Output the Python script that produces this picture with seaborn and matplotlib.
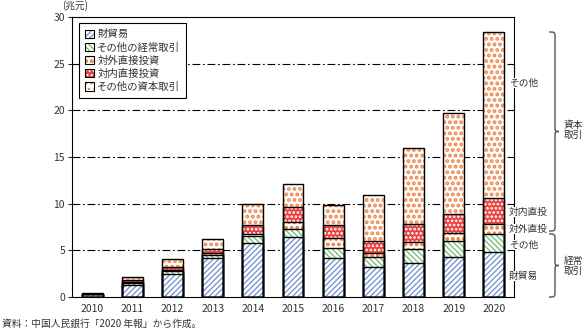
import matplotlib
matplotlib.use("Agg")
import matplotlib.pyplot as plt
import seaborn as sns
import numpy as np
import pandas as pd
from matplotlib.patches import Patch, PathPatch
from matplotlib.path import Path
from matplotlib.legend_handler import HandlerTuple

# ---------------- data (兆元) ----------------
years = ["2010", "2011", "2012", "2013", "2014", "2015",
         "2016", "2017", "2018", "2019", "2020"]
goods_trade = [0.28, 1.32, 2.50, 4.14, 5.82, 6.40, 4.14, 3.18, 3.61, 4.25, 4.79]
other_current = [0.04, 0.20, 0.33, 0.40, 0.72, 0.85, 1.07, 1.07, 1.50, 1.72, 1.96]
outward_fdi = [0.02, 0.10, 0.07, 0.15, 0.20, 0.79, 1.11, 0.50, 0.75, 0.92, 1.07]
inward_fdi = [0.03, 0.18, 0.30, 0.50, 0.93, 1.57, 1.36, 1.22, 1.96, 1.97, 2.75]
other_capital = [0.03, 0.32, 0.86, 1.00, 2.25, 2.47, 2.14, 4.93, 8.11, 10.83, 17.87]

series_labels = ["財貿易", "その他の経常取引", "対外直接投資", "対内直接投資", "その他の資本取引"]
yticks = [0, 5, 10, 15, 20, 25, 30]

# ---------------- style ----------------
sns.set_style("white")
plt.rcParams["font.family"] = ["Noto Sans CJK JP", "DejaVu Sans"]
plt.rcParams["hatch.linewidth"] = 0.9

W, H = 587, 334
fig = plt.figure(figsize=(W / 100, H / 100), dpi=100)
ax = fig.add_axes([72 / W, 37 / H, 442 / W, 280 / H])

# layer styles: facecolor, hatch, hatch colour, hatch linewidth
styles = [
    ("white", "//////", "#6d8ed0", 0.9),
    ("white", "\\\\\\\\\\\\", "#6cbb6c", 0.9),
    ("white", "ooo", "#f08a4b", 0.9),
    ("#e8413f", "....", "white", 1.3),
    ("white", "...", "#ee8448", 1.9),
]


def set_hlw(p, lw):
    if hasattr(p, "set_hatch_linewidth"):
        p.set_hatch_linewidth(lw)
    else:
        p._hatch_linewidth = lw


df = pd.DataFrame({"year": years})
layers = [goods_trade, other_current, outward_fdi, inward_fdi, other_capital]
cum = np.cumsum(np.array(layers), axis=0)
for i in range(len(layers)):
    df[f"cum{i}"] = cum[i]

bw = 0.52
# fills, top layer first so lower layers are painted over it
for i in reversed(range(len(layers))):
    fc, hatch, hc, hlw = styles[i]
    n0 = len(ax.patches)
    sns.barplot(data=df, x="year", y=f"cum{i}", ax=ax, width=bw, errorbar=None,
                color=fc, facecolor=fc, edgecolor=hc, hatch=hatch, linewidth=0,
                zorder=2)
    for p in ax.patches[n0:]:
        set_hlw(p, hlw)
# outlines
for i in reversed(range(len(layers))):
    sns.barplot(data=df, x="year", y=f"cum{i}", ax=ax, width=bw, errorbar=None,
                fill=False, edgecolor="black", linewidth=1.0, zorder=3)

# gridlines
for y in yticks[1:-1]:
    ax.axhline(y, color="black", lw=0.8, ls=(0, (7, 2.5, 1.5, 2.5)), zorder=0)

ax.set_xlim(-0.5, 10.5)
ax.set_ylim(0, 30)
ax.set_xlabel("")
ax.set_ylabel("")
ax.set_yticks(yticks)
ax.set_yticklabels([str(v) for v in yticks])
ax.set_xticks(range(len(years)))
ax.set_xticklabels(years)
ax.set_xticks(np.arange(-0.5, 10.6, 1.0), minor=True)
ax.tick_params(axis="x", which="major", length=0, pad=5, labelsize=7.5, labelcolor="#333333")
ax.tick_params(axis="x", which="minor", length=4, width=0.8, direction="out", color="black")
ax.tick_params(axis="y", which="major", length=3, width=0.8, direction="out", pad=2,
               labelsize=7.5, labelcolor="#333333", left=True)
for s in ax.spines.values():
    s.set_visible(True)
    s.set_color("black")
    s.set_linewidth(0.8)

# legend
handles = []
for fc, hatch, hc, hlw in styles:
    hp = Patch(facecolor=fc, edgecolor=hc, hatch=hatch, linewidth=0)
    set_hlw(hp, hlw)
    handles.append((hp, Patch(facecolor="none", edgecolor="black", linewidth=0.8)))
leg = ax.legend(handles, series_labels, handler_map={tuple: HandlerTuple(ndivide=1)},
                loc="upper left", bbox_to_anchor=(7 / 442, 1 - 6 / 280),
                borderaxespad=0, fontsize=7.5, frameon=True, fancybox=False,
                framealpha=1, edgecolor="black", handlelength=0.85, handleheight=0.85,
                handletextpad=0.3, labelspacing=0.3, borderpad=0.6,
                labelcolor="#333333")
leg.get_frame().set_linewidth(0.8)
leg.set_zorder(5)


def fx(px):
    return px / W


def fy(py):
    return 1 - py / H


# unit and source texts
fig.text(fx(62), fy(6), "(兆元)", fontsize=7, color="#333333", ha="left", va="center")
fig.text(fx(2), fy(324), "資料：中国人民銀行「2020 年報」から作成。", fontsize=7,
         color="#333333", ha="left", va="center")

# right-side labels
for txt, py in [("その他", 83), ("対内直投", 212), ("対外直投", 229),
                ("その他", 245), ("財貿易", 276)]:
    fig.text(fx(509), fy(py), txt, fontsize=7, color="#333333", ha="left", va="center",
             bbox=dict(facecolor="white", edgecolor="none", pad=0.3), zorder=6)


def brace(x0, ytop, ybot, w=10, r=6):
    xm = x0 + w * 0.6
    xt = x0 + w
    ym = (ytop + ybot) / 2
    pts = [(x0, ytop), (xm, ytop), (xm, ytop), (xm, ytop + r),
           (xm, ym - r), (xm, ym), (xm, ym), (xt, ym),
           (xm, ym), (xm, ym), (xm, ym + r),
           (xm, ybot - r), (xm, ybot), (xm, ybot), (x0, ybot)]
    codes = [Path.MOVETO, Path.CURVE4, Path.CURVE4, Path.CURVE4,
             Path.LINETO, Path.CURVE4, Path.CURVE4, Path.CURVE4,
             Path.CURVE4, Path.CURVE4, Path.CURVE4,
             Path.LINETO, Path.CURVE4, Path.CURVE4, Path.CURVE4]
    verts = [(fx(x), fy(y)) for x, y in pts]
    p = PathPatch(Path(verts, codes), facecolor="none", edgecolor="#555555", lw=1.0,
                  transform=fig.transFigure)
    fig.add_artist(p)


brace(549, 32, 231)
brace(549, 234, 297)
fig.text(fx(564), fy(130), "資本\n取引", fontsize=7, color="#333333", ha="left",
         va="center", linespacing=1.1)
fig.text(fx(564), fy(266), "経常\n取引", fontsize=7, color="#333333", ha="left",
         va="center", linespacing=1.1)

fig.savefig("out.png", dpi=100)
